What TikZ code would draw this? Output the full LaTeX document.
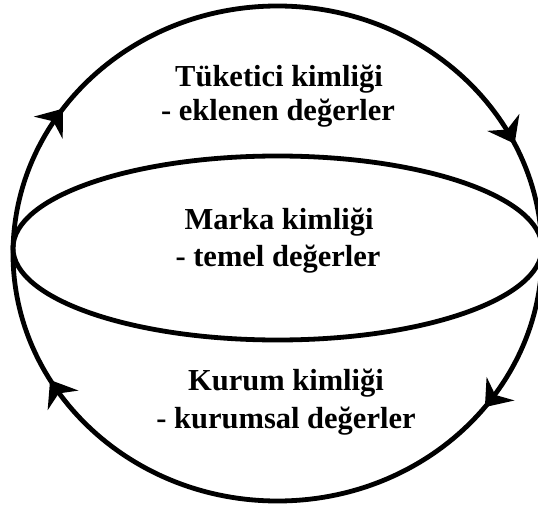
\documentclass[tikz,border=0pt]{standalone}
\usepackage{fontspec}
\setmainfont{Liberation Serif}
\usetikzlibrary{arrows.meta,decorations.markings}
\begin{document}
\begin{tikzpicture}[x=1pt,y=-1pt,
  ring/.style={line width=4.8pt},
  lbl/.style={font=\fontsize{30.5}{36}\selectfont\bfseries, inner sep=0pt, anchor=base},
  headtip/.tip={Stealth[length=24pt,width=36pt,inset=8pt]},
  tipmarks/.style={postaction=decorate, decoration={markings,
     mark=at position 0.104 with {\arrow{headtip}},
     mark=at position 0.417 with {\arrow{headtip}},
     mark=at position 0.597 with {\arrow{headtip}},
     mark=at position 0.929 with {\arrow{headtip}}}}]
\useasboundingbox (0,0) rectangle (538,508);
\coordinate (oc) at (277.5,253.5);
\coordinate (ic) at (277.5,248);
\draw[ring, tipmarks] (oc) ellipse [x radius=264.5, y radius=247.5];
\draw[ring] (ic) ellipse [x radius=264.5, y radius=92];
\node[lbl] (t1) at (279,87) {Tüketici kimliği};
\node[lbl] (t2) at (278,121) {- eklenen değerler};
\node[lbl] (m1) at (279,229) {Marka kimliği};
\node[lbl] (m2) at (278,266) {- temel değerler};
\node[lbl] (k1) at (286,390) {Kurum kimliği};
\node[lbl] (k2) at (286,428) {- kurumsal değerler};
\end{tikzpicture}
\end{document}
